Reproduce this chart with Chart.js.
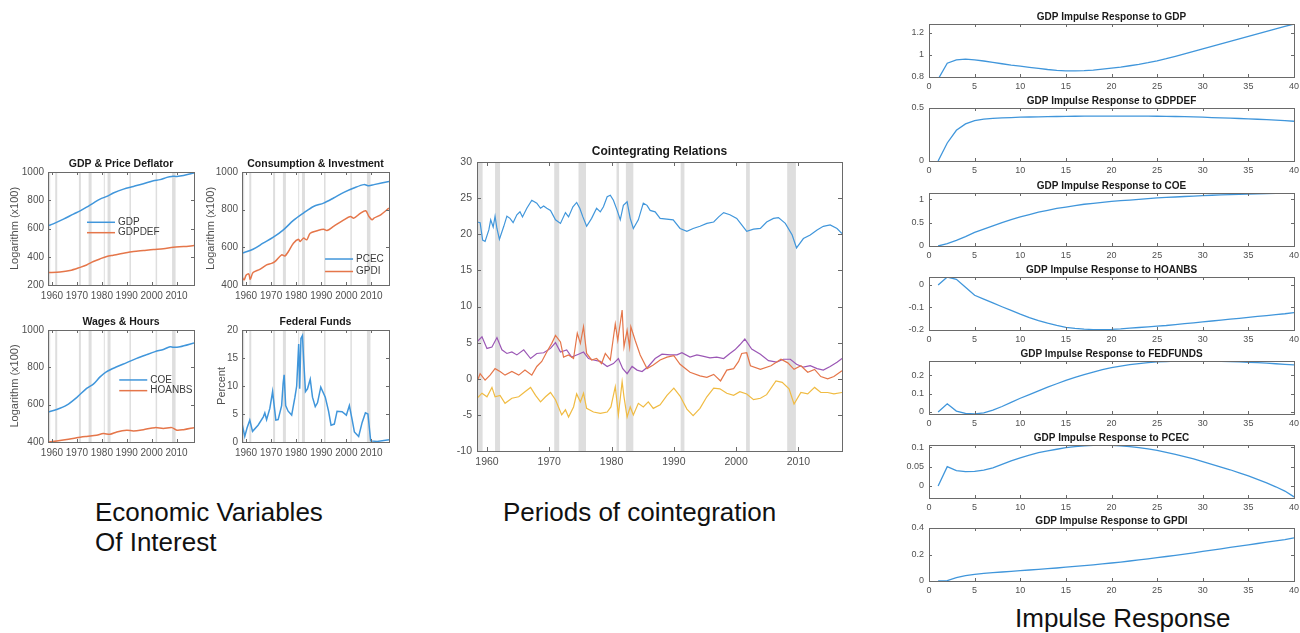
<!DOCTYPE html>
<html>
<head>
<meta charset="utf-8">
<script src="https://cdn.jsdelivr.net/npm/chart.js@4.4.1/dist/chart.umd.min.js"></script>
<style>
  html, body { margin: 0; padding: 0; background: #fff; width: 1300px; height: 633px; overflow: hidden; }
  canvas { position: absolute; }
  .cap { position: absolute; font-family: "Liberation Sans", Arial, sans-serif; font-size: 26px; line-height: 30px; color: #111; white-space: nowrap; }
</style>
</head>
<body>
<div class="cap" style="left:95px;top:497px">Economic Variables<br>Of Interest</div>
<div class="cap" style="left:503px;top:497px">Periods of cointegration</div>
<div class="cap" style="left:1015px;top:603px">Impulse Response</div>
<script>
// ---- data ----
const recessions = [[1958.4, 1959.3], [1961.3, 1962.1], [1970.8, 1971.6], [1974.7, 1975.9],
  [1980.8, 1981.2], [1982.3, 1983.5], [1991.1, 1991.7], [2001.6, 2002.2], [2008.2, 2009.6]];
const yearTicks = [1960, 1970, 1980, 1990, 2000, 2010];

// [year, log level x100]
const gdp = [[1958.4,619],[1960.5,633],[1964.6,666],[1968.6,702],[1971.3,725],[1973.9,751],[1976.6,780],[1979.3,808],[1982.0,827],[1984.6,851],[1988.7,879],[1992.7,898],[1996.7,917],[2000.7,938],[2003.4,946],[2006.1,962],[2008.1,969],[2010.1,969],[2012.8,976],[2017,993]];
const gdpdef = [[1958.4,288],[1963.2,292],[1967.2,302],[1971.3,325],[1973.9,342],[1976.6,366],[1979.3,385],[1982.0,402],[1984.6,411],[1988.7,425],[1992.7,437],[1996.7,444],[2000.7,451],[2004.7,456],[2008.7,467],[2012.8,472],[2017,479]];
const pcec = [[1958.4,569],[1962.8,590],[1966.8,622],[1970.9,654],[1974.9,693],[1978.9,743],[1982.9,782],[1986.9,817],[1990.9,835],[1994.9,862],[1999.0,892],[2003.0,915],[2007.0,933],[2009.0,927],[2011.0,933],[2017,950]];
const gpdi = [[1958.4,444],[1959.2,427],[1960.1,453],[1961.1,459],[1961.7,430],[1962.8,466],[1965.5,483],[1968.2,507],[1970.2,515],[1971.5,524],[1974.2,560],[1975.5,554],[1976.9,578],[1978.9,622],[1980.9,643],[1981.6,631],[1982.9,649],[1984.2,640],[1985.6,675],[1988.3,688],[1990.9,696],[1992.3,689],[1994.9,711],[1999.0,746],[2001.6,764],[2003.0,755],[2005.7,782],[2007.7,794],[2009.0,764],[2010.3,746],[2011.0,755],[2013.7,773],[2017,808]];
const coe = [[1958.4,561],[1961.9,574],[1965.9,597],[1969.9,638],[1973.9,687],[1976.6,710],[1979.3,749],[1981.8,776],[1986.0,803],[1990.0,825],[1994.0,848],[1998.0,868],[2001.4,884],[2004.7,896],[2007.4,910],[2008.7,907],[2011.4,910],[2017,930]];
const hoanbs = [[1958.4,400],[1961.9,405],[1965.9,413],[1969.9,423],[1973.9,430],[1977.9,436],[1980.6,445],[1983.3,441],[1986.0,454],[1990.0,463],[1992.7,459],[1996.7,466],[2001.4,477],[2004.7,472],[2008.1,477],[2010.1,463],[2012.8,466],[2017,477]];
// [year, percent]
const fedfunds = [[1958.4,3.3],[1959.5,1.0],[1960.4,2.5],[1961.5,3.9],[1962.6,1.9],[1964.8,3.0],[1966.9,4.5],[1967.5,5.2],[1968.2,4.0],[1969.5,6.0],[1970.6,9.0],[1971.1,7.0],[1971.9,3.9],[1972.8,4.0],[1974.2,6.5],[1974.8,10.5],[1975.2,12.0],[1975.8,6.5],[1976.8,5.5],[1978.2,4.8],[1979.5,8.0],[1980.2,10.0],[1981.0,17.5],[1981.4,9.5],[1981.9,18.5],[1982.5,19.0],[1983.0,14.5],[1983.7,9.0],[1984.5,9.5],[1985.6,11.2],[1986.5,8.0],[1987.6,6.3],[1988.5,7.0],[1989.8,9.8],[1991.6,8.0],[1992.9,5.5],[1993.9,3.0],[1995.2,3.2],[1996.3,5.5],[1998.3,5.4],[2000.0,4.8],[2001.2,6.5],[2002.3,4.0],[2003.2,1.8],[2004.9,1.0],[2006.3,3.5],[2007.6,5.2],[2008.6,5.0],[2009.7,0.2],[2012.3,0.1],[2017,0.4]];

// cointegrating relations [year, value]
const coint1 = [[1958.4,21.7],[1958.9,21.6],[1959.3,19.2],[1959.7,19.0],[1960.3,20.6],[1960.6,22.0],[1961.0,21.0],[1961.3,22.5],[1961.6,20.8],[1962.0,19.3],[1962.7,21.1],[1963.2,22.5],[1963.7,22.2],[1964.2,21.6],[1964.8,22.7],[1965.3,23.1],[1965.7,22.4],[1966.4,23.6],[1967.2,24.7],[1968.0,24.3],[1968.6,23.6],[1969.1,23.9],[1969.6,23.6],[1970.2,23.3],[1971.0,22.0],[1971.8,21.5],[1972.6,23.0],[1973.1,22.4],[1973.8,23.8],[1974.4,24.4],[1974.9,23.6],[1975.4,22.4],[1976.0,21.1],[1976.8,22.2],[1977.6,23.6],[1978.2,23.1],[1978.7,23.8],[1979.3,25.2],[1979.8,25.4],[1980.3,24.7],[1980.9,23.3],[1981.4,22.0],[1981.9,24.0],[1982.5,24.5],[1983.0,22.2],[1983.5,20.8],[1984.3,22.0],[1985.1,24.3],[1985.7,24.0],[1986.2,23.3],[1987.0,23.1],[1987.8,22.2],[1989.9,22.0],[1991.0,20.8],[1992.1,20.4],[1993.1,20.8],[1994.2,21.1],[1995.3,21.5],[1996.4,21.7],[1997.2,22.4],[1998.0,23.0],[1999.0,22.7],[2000.1,22.2],[2000.9,21.3],[2001.7,20.4],[2002.8,20.7],[2003.9,20.8],[2004.9,21.7],[2006.0,22.2],[2006.8,22.3],[2007.9,21.5],[2009.0,19.9],[2009.7,18.1],[2010.8,19.4],[2011.9,19.9],[2013.0,20.6],[2014.0,21.1],[2015.1,21.3],[2016.2,20.8],[2017.0,20.1]];
const coint2 = [[1958.4,-0.4],[1958.9,0.7],[1959.7,-0.2],[1960.5,0.5],[1961.3,1.4],[1962.1,1.0],[1962.9,0.5],[1964.0,1.0],[1965.1,0.5],[1966.1,1.2],[1967.2,0.5],[1968.0,1.7],[1968.8,2.4],[1969.6,3.7],[1970.4,4.9],[1971.0,6.0],[1971.8,5.1],[1972.3,3.0],[1973.1,3.3],[1973.9,2.8],[1974.5,6.3],[1975.0,4.9],[1975.5,7.2],[1976.0,3.5],[1976.8,2.6],[1977.6,2.8],[1978.4,2.1],[1979.0,3.5],[1979.8,2.6],[1980.6,7.6],[1981.0,5.3],[1981.7,9.5],[1982.0,4.4],[1982.5,6.7],[1982.9,4.4],[1983.1,7.2],[1983.8,5.3],[1984.6,3.3],[1985.7,1.4],[1986.7,1.9],[1987.8,2.6],[1988.9,3.0],[1990.0,3.2],[1991.0,2.0],[1992.6,0.9],[1994.2,0.4],[1995.3,0.2],[1996.4,0.6],[1997.5,-0.3],[1998.5,1.2],[1999.6,1.4],[2000.4,2.4],[2000.9,3.5],[2001.7,3.6],[2002.3,1.8],[2003.9,1.3],[2005.6,1.8],[2007.2,2.7],[2008.3,2.2],[2009.3,1.3],[2010.4,1.8],[2011.5,0.9],[2012.6,1.3],[2013.6,0.3],[2014.7,0.0],[2015.7,0.3],[2017.0,1.1]];
const coint3 = [[1958.4,-2.7],[1959.2,-2.0],[1960.0,-2.5],[1960.8,-1.2],[1961.3,-2.5],[1962.1,-2.3],[1962.9,-3.4],[1964.0,-2.7],[1965.1,-2.5],[1966.1,-1.8],[1967.0,-1.2],[1967.8,-2.3],[1968.6,-3.2],[1969.4,-2.5],[1970.2,-1.9],[1971.0,-2.9],[1972.0,-5.0],[1972.6,-4.3],[1973.1,-5.3],[1973.9,-3.9],[1974.4,-2.1],[1975.0,-3.2],[1975.5,-2.0],[1976.0,-4.1],[1977.1,-4.6],[1978.2,-4.8],[1979.3,-4.6],[1979.9,-3.9],[1980.6,-1.1],[1981.1,-5.0],[1981.7,-0.4],[1982.0,-2.5],[1982.5,-5.3],[1983.0,-3.9],[1983.5,-5.0],[1984.3,-3.4],[1985.1,-3.9],[1985.9,-3.2],[1986.7,-4.1],[1987.8,-3.6],[1988.9,-2.3],[1990.0,-1.3],[1991.0,-2.4],[1992.1,-4.2],[1993.1,-5.1],[1994.2,-4.1],[1995.3,-2.5],[1996.4,-1.3],[1997.4,-1.4],[1998.5,-2.0],[1999.6,-2.3],[2000.6,-1.8],[2001.7,-2.1],[2002.8,-2.9],[2003.9,-2.7],[2004.9,-2.2],[2006.4,-0.3],[2007.4,-0.5],[2008.5,-1.4],[2009.3,-3.5],[2010.4,-1.9],[2011.5,-2.1],[2012.6,-1.2],[2013.6,-1.9],[2014.7,-1.9],[2015.7,-2.1],[2017.0,-1.9]];
const coint4 = [[1958.4,5.1],[1959.2,5.8],[1960.0,4.2],[1960.8,4.4],[1961.6,5.7],[1962.4,4.0],[1963.2,3.5],[1964.0,3.7],[1964.8,3.3],[1965.9,4.0],[1967.0,2.8],[1968.0,3.5],[1969.1,3.6],[1970.2,4.2],[1971.0,5.0],[1971.8,3.7],[1972.8,4.0],[1973.6,3.0],[1974.7,3.4],[1975.5,3.7],[1976.3,2.8],[1977.1,2.6],[1978.2,2.4],[1979.3,1.7],[1980.3,2.1],[1981.1,2.8],[1981.8,1.4],[1982.5,0.7],[1983.3,1.7],[1984.1,1.2],[1984.9,1.0],[1985.9,1.7],[1987.0,2.8],[1988.1,3.4],[1989.4,3.3],[1990.5,3.3],[1991.3,3.6],[1992.6,3.0],[1993.7,3.3],[1994.8,3.1],[1995.8,2.9],[1996.9,3.0],[1998.0,2.8],[1999.0,3.5],[1999.8,4.0],[2000.6,4.7],[2001.4,5.5],[2002.5,4.1],[2003.9,3.4],[2005.2,2.5],[2006.5,2.3],[2007.6,2.7],[2008.7,2.7],[2009.7,2.0],[2010.8,1.6],[2011.9,1.8],[2013.0,1.4],[2014.0,1.2],[2015.1,1.7],[2016.2,2.3],[2017.0,2.8]];

// impulse responses, horizons 1..40
const horizon = Array.from({length: 40}, (_, i) => i + 1);
const horizonTicks = [0, 5, 10, 15, 20, 25, 30, 35, 40];
const irfGdp = [0.78,0.925,0.955,0.962,0.955,0.945,0.933,0.92,0.908,0.898,0.888,0.878,0.868,0.86,0.856,0.855,0.857,0.863,0.871,0.88,0.89,0.902,0.915,0.93,0.947,0.966,0.987,1.009,1.032,1.055,1.078,1.1,1.122,1.145,1.168,1.19,1.213,1.236,1.258,1.28];
const irfGdpdef = [0,0.17,0.29,0.35,0.38,0.395,0.402,0.407,0.41,0.413,0.415,0.417,0.419,0.42,0.421,0.422,0.423,0.423,0.424,0.424,0.424,0.424,0.423,0.423,0.422,0.421,0.42,0.418,0.416,0.413,0.41,0.407,0.404,0.401,0.398,0.394,0.39,0.386,0.381,0.375];
const irfCoe = [0,0.05,0.12,0.2,0.29,0.36,0.43,0.5,0.56,0.62,0.67,0.72,0.76,0.8,0.83,0.86,0.89,0.91,0.93,0.95,0.966,0.98,0.995,1.01,1.025,1.035,1.045,1.055,1.065,1.075,1.082,1.09,1.096,1.102,1.108,1.113,1.118,1.122,1.126,1.13];
const irfHoanbs = [0,0.035,0.025,-0.01,-0.046,-0.063,-0.08,-0.097,-0.113,-0.13,-0.145,-0.158,-0.17,-0.18,-0.188,-0.193,-0.196,-0.198,-0.198,-0.197,-0.195,-0.192,-0.189,-0.186,-0.183,-0.18,-0.176,-0.172,-0.168,-0.164,-0.16,-0.156,-0.152,-0.148,-0.144,-0.14,-0.136,-0.132,-0.128,-0.123];
const irfFedfunds = [0,0.045,0.005,-0.008,-0.01,-0.005,0.01,0.03,0.052,0.075,0.095,0.115,0.135,0.154,0.172,0.189,0.204,0.218,0.231,0.242,0.25,0.258,0.264,0.269,0.273,0.275,0.277,0.278,0.278,0.278,0.277,0.276,0.275,0.273,0.271,0.269,0.266,0.263,0.26,0.257];
const irfPcec = [0,0.05,0.04,0.037,0.038,0.041,0.047,0.056,0.065,0.073,0.08,0.086,0.091,0.095,0.099,0.102,0.104,0.105,0.105,0.105,0.104,0.102,0.099,0.096,0.092,0.087,0.082,0.076,0.07,0.063,0.056,0.049,0.042,0.034,0.026,0.017,0.008,-0.002,-0.013,-0.028];
const irfGpdi = [0,0.003,0.025,0.04,0.05,0.057,0.063,0.068,0.073,0.078,0.083,0.088,0.093,0.098,0.104,0.11,0.116,0.122,0.129,0.136,0.143,0.151,0.159,0.167,0.176,0.185,0.194,0.203,0.213,0.223,0.233,0.243,0.253,0.263,0.273,0.283,0.293,0.303,0.313,0.325];

// ---- style ----
const FONT = '"Liberation Sans", Arial, Helvetica, sans-serif';
const TICK = '#505050';
const BLUE = '#4096db', ORANGE = '#e5764a', YELLOW = '#f0bb42', PURPLE = '#9b57b5';

// grey recession bars behind the lines
const recessionShade = {
  id: 'recessionShade',
  beforeDatasetsDraw(chart, args, opts) {
    if (!opts.bands) return;
    const { ctx, chartArea: a, scales: { x } } = chart;
    ctx.save();
    ctx.fillStyle = '#dedede';
    opts.bands.forEach(([s, e]) => {
      const x0 = Math.max(x.getPixelForValue(s), a.left);
      const x1 = Math.min(x.getPixelForValue(e), a.right);
      ctx.fillRect(x0, a.top, x1 - x0, a.bottom - a.top);
    });
    ctx.restore();
  }
};

// matlab style box with inward ticks
const matlabBox = {
  id: 'matlabBox',
  afterDatasetsDraw(chart, args, opts) {
    const { ctx, chartArea: a, scales: { x, y } } = chart;
    const len = opts.tick || 3;
    ctx.save();
    ctx.strokeStyle = '#6a6a6a';
    ctx.lineWidth = 1;
    ctx.beginPath();
    x.ticks.forEach(t => {
      const px = Math.round(x.getPixelForValue(t.value)) + 0.5;
      ctx.moveTo(px, a.bottom); ctx.lineTo(px, a.bottom - len);
      ctx.moveTo(px, a.top); ctx.lineTo(px, a.top + len);
    });
    y.ticks.forEach(t => {
      const py = Math.round(y.getPixelForValue(t.value)) + 0.5;
      ctx.moveTo(a.left, py); ctx.lineTo(a.left + len, py);
      ctx.moveTo(a.right, py); ctx.lineTo(a.right - len, py);
    });
    ctx.stroke();
    ctx.strokeRect(Math.round(a.left) + 0.5, Math.round(a.top) + 0.5,
      Math.round(a.right - a.left), Math.round(a.bottom - a.top));
    ctx.restore();
  }
};

// legend drawn inside the axes, no box
const innerLegend = {
  id: 'innerLegend',
  afterDraw(chart, args, opts) {
    if (!opts.at) return;
    const { ctx, chartArea: a } = chart;
    const x0 = a.left + opts.at[0] * (a.right - a.left);
    let yy = a.top + opts.at[1] * (a.bottom - a.top);
    ctx.save();
    ctx.font = '10px ' + FONT;
    ctx.textBaseline = 'middle';
    chart.data.datasets.forEach(ds => {
      ctx.strokeStyle = ds.borderColor;
      ctx.lineWidth = 1.5;
      ctx.beginPath(); ctx.moveTo(x0, yy); ctx.lineTo(x0 + 28, yy); ctx.stroke();
      ctx.fillStyle = '#3a3a3a';
      ctx.fillText(ds.label, x0 + 31, yy);
      yy += opts.gap;
    });
    ctx.restore();
  }
};

Chart.register(recessionShade, matlabBox, innerLegend);

const fmt = v => String(Math.round(v * 1000) / 1000);

function panel(p) {
  const titleH = Math.round(p.titleSize * 1.2 + p.titlePad);
  const left = p.plot[0] - p.yw, top = p.plot[1] - titleH;
  const w = p.yw + p.plot[2] + p.rp, h = titleH + p.plot[3] + p.xh;
  const cv = document.createElement('canvas');
  cv.width = w; cv.height = h;
  Object.assign(cv.style, { left: left + 'px', top: top + 'px', width: w + 'px', height: h + 'px' });
  document.body.appendChild(cv);

  return new Chart(cv, {
    type: 'line',
    data: {
      datasets: p.series.map(s => ({
        label: s.label,
        data: s.points,
        borderColor: s.color,
        borderWidth: p.lineWidth,
        pointRadius: 0,
        tension: p.tension || 0,
        fill: false
      }))
    },
    options: {
      responsive: false,
      animation: false,
      devicePixelRatio: 1,
      layout: { padding: { left: 0, right: p.rp, top: 0, bottom: 0 } },
      plugins: {
        legend: { display: false },
        tooltip: { enabled: false },
        title: {
          display: true, text: p.title, fullSize: false, color: '#1a1a1a',
          font: { family: FONT, size: p.titleSize, weight: 'bold', lineHeight: 1.2 },
          padding: { top: 0, bottom: p.titlePad }
        },
        recessionShade: { bands: p.bands },
        matlabBox: { tick: p.tickLen },
        innerLegend: { at: p.legendAt, gap: p.legendGap }
      },
      scales: {
        x: {
          type: 'linear', min: p.xRange[0], max: p.xRange[1],
          grid: { display: false, drawTicks: false }, border: { display: false },
          ticks: { color: TICK, font: { family: FONT, size: p.tickSize }, padding: p.xPad,
                   autoSkip: false, maxRotation: 0, callback: fmt },
          afterBuildTicks: s => { s.ticks = p.xTicks.map(v => ({ value: v })); },
          afterFit: s => { s.height = p.xh; }
        },
        y: {
          type: 'linear', min: p.yRange[0], max: p.yRange[1],
          grid: { display: false, drawTicks: false }, border: { display: false },
          ticks: { color: TICK, font: { family: FONT, size: p.tickSize }, padding: p.yPad,
                   autoSkip: false, callback: fmt },
          title: p.yTitle ? {
            display: true, text: p.yTitle, color: TICK,
            font: { family: FONT, size: 11, lineHeight: 1.2 },
            padding: { top: p.yTitlePad, bottom: 0 }
          } : { display: false },
          afterBuildTicks: s => { s.ticks = p.yTicks.map(v => ({ value: v })); },
          afterFit: s => { s.width = p.yw; }
        }
      }
    }
  });
}

const pts = arr => arr.map(([x, y]) => ({ x, y }));

// ---- left: economic variables ----
const small = {
  titleSize: 10.5, titlePad: 1.4, tickSize: 10, xPad: 5, yPad: 4, xh: 16, rp: 8,
  lineWidth: 1.5, tension: 0.3, tickLen: 3, bands: recessions,
  xRange: [1958.4, 2017], xTicks: yearTicks
};
panel(Object.assign({}, small, {
  plot: [48, 172, 146, 113], yw: 43, yTitle: 'Logarithm (x100)', yTitlePad: 3.4,
  title: 'GDP & Price Deflator', yRange: [200, 1000], yTicks: [200, 400, 600, 800, 1000],
  series: [{ label: 'GDP', points: pts(gdp), color: BLUE }, { label: 'GDPDEF', points: pts(gdpdef), color: ORANGE }],
  legendAt: [0.267, 0.445], legendGap: 10.4
}));
panel(Object.assign({}, small, {
  plot: [242, 172, 147, 113], yw: 42, yTitle: 'Logarithm (x100)', yTitlePad: 4.4,
  title: 'Consumption & Investment', yRange: [400, 1000], yTicks: [400, 600, 800, 1000],
  series: [{ label: 'PCEC', points: pts(pcec), color: BLUE }, { label: 'GPDI', points: pts(gpdi), color: ORANGE }],
  legendAt: [0.565, 0.77], legendGap: 12.5
}));
panel(Object.assign({}, small, {
  plot: [48, 330, 146, 112], yw: 43, yTitle: 'Logarithm (x100)', yTitlePad: 3.4,
  title: 'Wages & Hours', yRange: [400, 1000], yTicks: [400, 600, 800, 1000],
  series: [{ label: 'COE', points: pts(coe), color: BLUE }, { label: 'HOANBS', points: pts(hoanbs), color: ORANGE }],
  legendAt: [0.488, 0.446], legendGap: 10.7
}));
panel(Object.assign({}, small, {
  plot: [242, 330, 147, 112], yw: 42, yTitle: 'Percent', yTitlePad: 15.1, tension: 0,
  title: 'Federal Funds', yRange: [0, 20], yTicks: [0, 5, 10, 15, 20],
  series: [{ label: 'FEDFUNDS', points: pts(fedfunds), color: BLUE }]
}));

// ---- middle: cointegrating relations ----
panel({
  plot: [477, 162, 365, 289], yw: 37, xh: 22, rp: 12,
  titleSize: 12, titlePad: 3.6, tickSize: 10.5, xPad: 5, yPad: 5, lineWidth: 1.2, tickLen: 4,
  title: 'Cointegrating Relations', bands: recessions,
  xRange: [1958.4, 2017], xTicks: yearTicks,
  yRange: [-10, 30], yTicks: [-10, -5, 0, 5, 10, 15, 20, 25, 30],
  series: [
    { label: 'CR1', points: pts(coint1), color: BLUE },
    { label: 'CR2', points: pts(coint2), color: ORANGE },
    { label: 'CR3', points: pts(coint3), color: YELLOW },
    { label: 'CR4', points: pts(coint4), color: PURPLE }
  ]
});

// ---- right: impulse responses ----
const irfPanels = [
  { name: 'GDP', vals: irfGdp, range: [0.8, 1.28], ticks: [0.8, 1, 1.2] },
  { name: 'GDPDEF', vals: irfGdpdef, range: [0, 0.5], ticks: [0, 0.5] },
  { name: 'COE', vals: irfCoe, range: [0, 1.13], ticks: [0, 0.5, 1] },
  { name: 'HOANBS', vals: irfHoanbs, range: [-0.2, 0.035], ticks: [-0.2, -0.1, 0] },
  { name: 'FEDFUNDS', vals: irfFedfunds, range: [-0.011, 0.278], ticks: [0, 0.1, 0.2] },
  { name: 'PCEC', vals: irfPcec, range: [-0.031, 0.106], ticks: [0, 0.05, 0.1] },
  { name: 'GPDI', vals: irfGpdi, range: [0, 0.4], ticks: [0, 0.2, 0.4] }
];
const irfTops = [24, 108, 193, 277, 361, 445, 528];
irfPanels.forEach((r, i) => {
  panel({
    plot: [929, irfTops[i], 365, 53], yw: 30, xh: 14, rp: 10,
    titleSize: 10, titlePad: 1, tickSize: 9, xPad: 4, yPad: 5, lineWidth: 1.3, tickLen: 3,
    title: 'GDP Impulse Response to ' + r.name,
    xRange: [0, 40], xTicks: horizonTicks,
    yRange: r.range, yTicks: r.ticks,
    series: [{ label: r.name, points: horizon.map((h, k) => ({ x: h, y: r.vals[k] })), color: BLUE }]
  });
});
</script>
</body>
</html>
